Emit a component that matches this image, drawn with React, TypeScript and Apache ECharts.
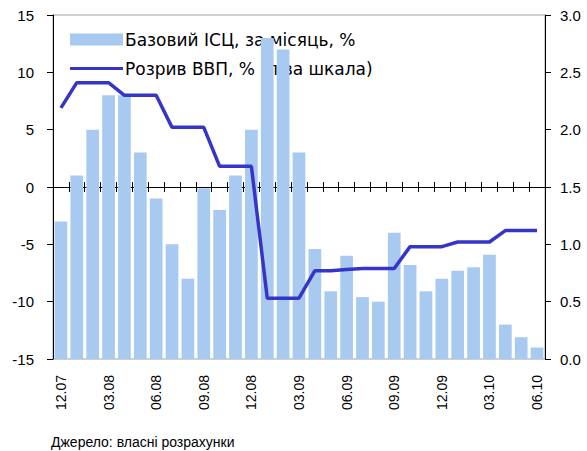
import React, { useEffect, useRef } from "react";
import * as echarts from "echarts";

const categories = [
  "12.07", "01.08", "02.08", "03.08", "04.08", "05.08", "06.08", "07.08", "08.08", "09.08",
  "10.08", "11.08", "12.08", "01.09", "02.09", "03.09", "04.09", "05.09", "06.09", "07.09",
  "08.09", "09.09", "10.09", "11.09", "12.09", "01.10", "02.10", "03.10", "04.10", "05.10", "06.10",
];

// Базовий ІСЦ, за місяць, % (права шкала)
const coreCpi = [
  1.2, 1.6, 2.0, 2.3, 2.3, 1.8, 1.4, 1.0, 0.7, 1.49,
  1.3, 1.6, 2.0, 2.8, 2.7, 1.8, 0.96, 0.59, 0.9, 0.54,
  0.5, 1.1, 0.82, 0.59, 0.7, 0.77, 0.8, 0.91, 0.3, 0.19, 0.1,
];

// Розрив ВВП, % (ліва шкала)
const gdpGap = [
  6.9, 9.1, 9.1, 9.1, 8.0, 8.0, 8.0, 5.2, 5.2, 5.2,
  1.8, 1.8, 1.8, -9.7, -9.7, -9.7, -7.3, -7.3, -7.2, -7.1,
  -7.1, -7.1, -5.2, -5.2, -5.2, -4.8, -4.8, -4.8, -3.8, -3.8, -3.8,
];

const barName = "Базовий ІСЦ, за місяць, %";
const lineName = "Розрив ВВП, % (ліва шкала)";
const sourceText = "Джерело: власні розрахунки";

const FONT = "Liberation Sans, Arial, sans-serif";
const LEGEND_FONT = "DejaVu Sans, Liberation Sans, sans-serif";

export default function App() {
  const ref = useRef<HTMLDivElement>(null);
  useEffect(() => {
    if (!ref.current) return;
    const chart = echarts.init(ref.current, undefined, { renderer: "svg" });
    const hiddenAxis = (inside: boolean) => ({
      type: "category",
      data: categories,
      position: "bottom",
      axisLine: { show: true, onZero: true, onZeroAxisIndex: 0, lineStyle: { color: "#000", width: 1 } },
      axisTick: { show: true, inside, length: 5, interval: 0, lineStyle: { color: "#000", width: 1 } },
      axisLabel: { show: false },
      splitLine: { show: false },
    });
    chart.setOption({
      animation: false,
      textStyle: { fontFamily: FONT },
      grid: {
        left: 53,
        right: 42,
        top: 15,
        bottom: 92,
        show: true,
        borderColor: "#a0a0a0",
        borderWidth: 1,
        backgroundColor: "transparent",
      },
      legend: {
        orient: "vertical",
        left: 70,
        top: 31,
        padding: 0,
        itemWidth: 53,
        itemHeight: 12,
        itemGap: 12,
        z: 0,
        textStyle: { fontSize: 17, color: "#000", fontFamily: LEGEND_FONT, padding: [0, 0, 0, -3] },
        data: [
          { name: barName, icon: "rect" },
          { name: lineName, icon: "path://M0,5 L53,5 L53,8 L0,8 Z" },
        ],
      },
      xAxis: [
        {
          type: "category",
          data: categories,
          position: "bottom",
          axisLine: { show: false, onZero: false },
          axisTick: { show: false },
          axisLabel: {
            interval: 2,
            rotate: 90,
            margin: 16,
            fontSize: 14,
            color: "#000",
            fontFamily: FONT,
          },
        },
        hiddenAxis(true),
        hiddenAxis(false),
      ],
      yAxis: [
        {
          type: "value",
          position: "left",
          min: -15,
          max: 15,
          interval: 5,
          axisLine: { show: true, lineStyle: { color: "#000", width: 1 } },
          axisTick: { show: true, length: 6, lineStyle: { color: "#000" } },
          axisLabel: { fontSize: 15, color: "#000", margin: 19, fontFamily: FONT },
          splitLine: { show: false },
        },
        {
          type: "value",
          position: "right",
          min: 0,
          max: 3,
          interval: 0.5,
          axisLine: { show: true, lineStyle: { color: "#000", width: 1 } },
          axisTick: { show: true, length: 6, lineStyle: { color: "#000" } },
          axisLabel: {
            fontSize: 15,
            color: "#000",
            margin: 15,
            fontFamily: FONT,
            formatter: (v: number) => v.toFixed(1),
          },
          splitLine: { show: false },
        },
      ],
      series: [
        {
          name: barName,
          type: "bar",
          xAxisIndex: 0,
          yAxisIndex: 1,
          data: coreCpi,
          barCategoryGap: "20%",
          itemStyle: { color: "#a8caf0" },
          z: 2,
        },
        {
          name: lineName,
          type: "line",
          xAxisIndex: 0,
          yAxisIndex: 0,
          data: gdpGap,
          symbol: "none",
          lineStyle: { color: "#3535c8", width: 3.5 },
          itemStyle: { color: "#3535c8" },
          z: 3,
        },
      ],
      graphic: [
        {
          type: "text",
          left: 51,
          top: 435,
          style: { text: sourceText, fontSize: 14, fill: "#000", fontFamily: FONT },
        },
      ],
    });
    return () => chart.dispose();
  }, []);
  return <div ref={ref} style={{ width: 587, height: 451, position: "absolute", left: 0, top: 0 }} />;
}
